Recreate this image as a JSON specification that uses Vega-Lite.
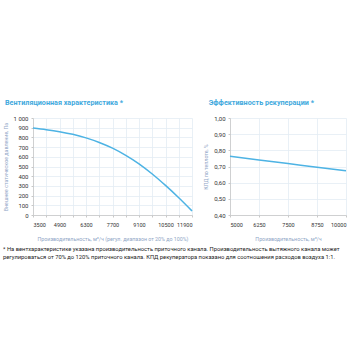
{
  "$schema": "https://vega.github.io/schema/vega-lite/v6.json",
  "background": "white",
  "padding": {"top": 98, "left": 3, "right": 0, "bottom": 4},
  "spacing": 8,
  "config": {
    "font": "Roboto",
    "view": {"stroke": null},
    "axis": {
      "labelFont": "Roboto",
      "labelFontSize": 6,
      "labelColor": "#333333",
      "labelOverlap": false,
      "titleFont": "Roboto",
      "titleFontSize": 5.3,
      "titleFontWeight": "normal",
      "titleColor": "#8fa6c6",
      "gridColor": "#e3ecf4",
      "gridWidth": 0.8,
      "domainColor": "#c8c8c8",
      "tickColor": "#c8c8c8",
      "tickSize": 2,
      "domainWidth": 0.8
    },
    "title": {"font": "Roboto"}
  },
  "title": {
    "text": [
      "* На вентхарактеристике указана производительность приточного канала. Производительность вытяжного канала может",
      "регулироваться от 70% до 120% приточного канала. КПД рекуператора показано для соотношения расходов воздуха 1:1."
    ],
    "orient": "bottom",
    "anchor": "start",
    "frame": "bounds",
    "fontSize": 5.8,
    "fontWeight": "normal",
    "color": "#222222",
    "lineHeight": 8.5,
    "offset": 4
  },
  "hconcat": [
    {
      "width": 159,
      "height": 97,
      "title": {"text": "Вентиляционная характеристика *", "anchor": "start", "frame": "bounds", "fontSize": 7.2, "fontWeight": "bold", "color": "#3fa9dd", "offset": 9, "dx": 2},
      "data": {"values": [
        {"q": 3500, "p": 897},
        {"q": 4200, "p": 880},
        {"q": 4900, "p": 859},
        {"q": 5600, "p": 832},
        {"q": 6300, "p": 795},
        {"q": 7000, "p": 748},
        {"q": 7700, "p": 689},
        {"q": 8400, "p": 615},
        {"q": 9100, "p": 528},
        {"q": 9800, "p": 423},
        {"q": 10500, "p": 305},
        {"q": 11200, "p": 178},
        {"q": 11900, "p": 42}
      ]},
      "mark": {"type": "line", "color": "#4db3e4", "strokeWidth": 1.5, "interpolate": "monotone"},
      "encoding": {
        "x": {
          "field": "q", "type": "quantitative",
          "scale": {"domain": [3500, 11900], "nice": false, "zero": false},
          "axis": {
            "title": "Производительность, м³/ч (регул. диапазон от 20% до 100%)",
            "values": [3500, 4200, 4900, 5600, 6300, 7000, 7700, 8400, 9100, 9800, 10500, 11200, 11900],
            "labelExpr": "(datum.value - 3500) % 1400 == 0 ? format(datum.value, 'd') : ''",
            "labelFontSize": 5.5,
            "labelPadding": 5,
            "titlePadding": 9
          }
        },
        "y": {
          "field": "p", "type": "quantitative",
          "scale": {"domain": [0, 1000], "nice": false},
          "axis": {
            "title": "Внешнее статическое давление, Па",
            "values": [0, 100, 200, 300, 400, 500, 600, 700, 800, 900, 1000],
            "labelExpr": "replace(format(datum.value, ','), ',', ' ')",
            "labelPadding": 3,
            "titlePadding": 5
          }
        }
      }
    },
    {
      "width": 116,
      "height": 97,
      "title": {"text": "Эффективность рекуперации *", "anchor": "start", "frame": "bounds", "fontSize": 7.2, "fontWeight": "bold", "color": "#3fa9dd", "offset": 9, "dx": 5},
      "data": {"values": [
        {"q": 5000, "e": 0.763},
        {"q": 6250, "e": 0.740},
        {"q": 7500, "e": 0.718},
        {"q": 8750, "e": 0.695},
        {"q": 10000, "e": 0.674}
      ]},
      "mark": {"type": "line", "color": "#4db3e4", "strokeWidth": 1.5, "interpolate": "monotone"},
      "encoding": {
        "x": {
          "field": "q", "type": "quantitative",
          "scale": {"domain": [5000, 10000], "nice": false, "zero": false},
          "axis": {
            "title": "Производительность, м³/ч",
            "values": [5000, 6250, 7500, 8750, 10000],
            "labelExpr": "format(datum.value, 'd')",
            "labelFontSize": 5.5,
            "labelPadding": 5,
            "titlePadding": 9
          }
        },
        "y": {
          "field": "e", "type": "quantitative",
          "scale": {"domain": [0.4, 1.0], "nice": false, "zero": false},
          "axis": {
            "title": "КПД по теплоте, %",
            "values": [0.4, 0.5, 0.6, 0.7, 0.8, 0.9, 1.0],
            "labelExpr": "replace(format(datum.value, '.2f'), '.', ',')",
            "labelPadding": 3,
            "titlePadding": 5
          }
        }
      }
    }
  ]
}
